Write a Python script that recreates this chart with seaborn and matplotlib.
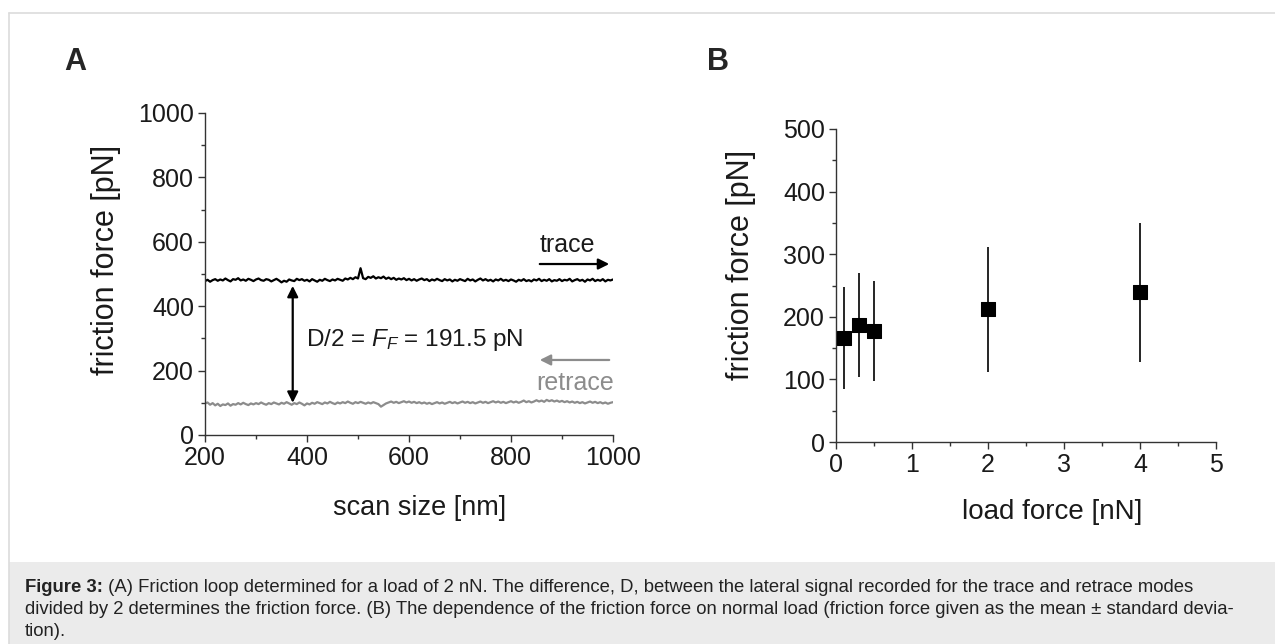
import matplotlib
matplotlib.use("Agg")
import matplotlib.pyplot as plt
import numpy as np
import seaborn as sns
from matplotlib.patches import Rectangle
from matplotlib.lines import Line2D
from matplotlib.ticker import MultipleLocator

# panel A: friction loop, lateral signal every 5 nm from 200 to 1000 nm
scan_nm = np.arange(200, 1001, 5)
trace_pN = [
    478, 482, 476, 481, 484, 479, 483, 480, 486, 481, 477, 484, 482, 487, 480, 483, 479, 485, 482, 478,
    483, 486, 481, 479, 484, 482, 477, 481, 485, 480, 474, 479, 476, 483, 480, 478, 485, 481, 484, 479,
    482, 477, 484, 480, 476, 482, 479, 485, 481, 478, 483, 480, 485, 482, 479, 486, 483, 488, 484, 490,
    486, 518, 487, 484, 491, 488, 493, 486, 490, 487, 492, 485, 489, 484, 488, 482, 486, 483, 487, 481,
    485, 480, 484, 479, 483, 486, 481, 484, 478, 483, 480, 485, 481, 478, 484, 480, 483, 477, 482, 479,
    484, 481, 478, 485, 480, 483, 477, 482, 486, 480, 484, 479, 482, 477, 483, 480, 485, 479, 482, 478,
    483, 480, 476, 482, 479, 484, 478, 481, 477, 483, 480, 485, 478, 482, 479, 484, 477, 481, 479, 484,
    478, 482, 480, 485, 477, 481, 484, 479, 482, 476, 483, 480, 485, 478, 482, 479, 484, 477, 482, 480,
    483,
]
retrace_pN = [
    98, 101, 94, 99, 92, 97, 90, 95, 93, 98, 91, 96, 94, 99, 95, 100, 96, 93, 98, 95,
    99, 96, 101, 97, 94, 99, 96, 101, 98, 95, 100, 97, 102, 98, 94, 99, 96, 101, 97, 92,
    98, 95, 100, 97, 102, 99, 96, 101, 98, 103, 99, 96, 101, 98, 102, 99, 104, 100, 97, 102,
    99, 103, 100, 97, 101, 98, 102, 99, 96, 88, 93, 98, 101, 104, 100, 103, 99, 102, 105, 101,
    104, 100, 103, 99, 102, 98, 101, 97, 100, 96, 99, 102, 98, 101, 97, 100, 103, 99, 102, 98,
    101, 104, 100, 103, 99, 102, 98, 101, 104, 100, 103, 99, 102, 105, 101, 104, 100, 103, 99, 102,
    105, 101, 104, 100, 103, 107, 102, 105, 101, 104, 108, 104, 107, 103, 109, 105, 108, 104, 107, 103,
    106, 102, 105, 101, 104, 100, 103, 99, 102, 98, 101, 104, 100, 103, 99, 102, 98, 101, 97, 100,
    102,
]

# panel B: friction force vs load (mean +- sd)
load_nN = [0.1, 0.3, 0.5, 2.0, 4.0]
friction_mean = [166, 187, 177, 212, 239]
friction_sd = [82, 83, 80, 100, 111]

sns.set_style("ticks")
plt.rcParams['font.family'] = ['Liberation Sans', 'DejaVu Sans']
plt.rcParams['mathtext.fontset'] = 'custom'
plt.rcParams['mathtext.rm'] = 'Liberation Sans'
plt.rcParams['mathtext.it'] = 'Liberation Sans:italic'

W, H = 1275, 644
fig = plt.figure(figsize=(W / 100, H / 100), dpi=100)
fig.patch.set_facecolor('white')

# frame and caption box
fig.patches.append(Rectangle((9 / W, 0), 1 - 9 / W, 82 / H, transform=fig.transFigure,
                             facecolor='#ebebeb', edgecolor='none', zorder=0))
fig.lines.append(Line2D([9 / W, 1], [1 - 12.5 / H] * 2, transform=fig.transFigure,
                        color='#dcdcdc', lw=1.2))
fig.lines.append(Line2D([9 / W] * 2, [0, 1 - 12.5 / H], transform=fig.transFigure,
                        color='#dcdcdc', lw=1.2))

axA = fig.add_axes([205 / W, (H - 435) / H, 408 / W, 322 / H])
axB = fig.add_axes([836 / W, (H - 442) / H, 380 / W, 313 / H])

ink = '#1a1a1a'
for ax in (axA, axB):
    ax.set_facecolor('none')
    sns.despine(ax=ax)
    for s in ('left', 'bottom'):
        ax.spines[s].set_linewidth(1.0)
        ax.spines[s].set_color('#333333')
    ax.tick_params(which='major', direction='out', length=5, width=1, labelsize=18,
                   color='#333333', labelcolor=ink, pad=3)
    ax.tick_params(which='minor', direction='out', length=3, width=1, color='#333333')

# ---- panel A
sns.lineplot(x=scan_nm, y=trace_pN, ax=axA, color='black', lw=1.6)
sns.lineplot(x=scan_nm, y=retrace_pN, ax=axA, color='#8c8c8c', lw=1.6)
axA.set_xlim(200, 1000)
axA.set_ylim(0, 1000)
axA.xaxis.set_major_locator(MultipleLocator(200))
axA.xaxis.set_minor_locator(MultipleLocator(100))
axA.yaxis.set_major_locator(MultipleLocator(200))
axA.yaxis.set_minor_locator(MultipleLocator(100))
axA.set_xlabel('scan size [nm]', fontsize=19.5, color=ink)
axA.set_ylabel('friction force [pN]', fontsize=22, color=ink)
axA.xaxis.set_label_coords(0.525, -0.185)
axA.yaxis.set_label_coords(-0.205, 0.545)

axA.annotate('', xy=(998, 531), xytext=(851, 531),
             arrowprops=dict(arrowstyle='-|>', color='black', lw=1.6, mutation_scale=16))
axA.text(857, 590, 'trace', fontsize=18, color=ink, va='center', ha='left')
axA.annotate('', xy=(851, 233), xytext=(998, 233),
             arrowprops=dict(arrowstyle='-|>', color='#8c8c8c', lw=1.6, mutation_scale=16))
axA.text(1002, 161, 'retrace', fontsize=18, color='#8c8c8c', va='center', ha='right')
axA.annotate('', xy=(372, 100), xytext=(372, 463),
             arrowprops=dict(arrowstyle='<|-|>', color='black', lw=1.6, mutation_scale=16,
                             shrinkA=0, shrinkB=0))
axA.text(398, 295, 'D/2 = $F_F$ = 191.5 pN', fontsize=17.5, color=ink, va='center', ha='left')

# ---- panel B
axB.errorbar(load_nN, friction_mean, yerr=friction_sd, fmt='none', ecolor='black',
             elinewidth=1.2, capsize=0, zorder=2)
sns.scatterplot(x=load_nN, y=friction_mean, ax=axB, marker='s', s=90, color='black',
                edgecolor='black', zorder=3, clip_on=False)
axB.set_xlim(0, 5)
axB.set_ylim(0, 500)
axB.xaxis.set_major_locator(MultipleLocator(1))
axB.xaxis.set_minor_locator(MultipleLocator(0.5))
axB.yaxis.set_major_locator(MultipleLocator(100))
axB.yaxis.set_minor_locator(MultipleLocator(50))
axB.set_xlabel('load force [nN]', fontsize=20, color=ink)
axB.set_ylabel('friction force [pN]', fontsize=22, color=ink)
axB.xaxis.set_label_coords(0.568, -0.183)
axB.yaxis.set_label_coords(-0.21, 0.565)

# panel letters
fig.text(64 / W, 1 - 70 / H, 'A', fontsize=22, fontweight='bold', va='baseline')
fig.text(707 / W, 1 - 70 / H, 'B', fontsize=22, fontweight='bold', va='baseline')

# caption
cap_col = '#222222'
cap_fs = 13.3
y1 = H - 592
bold = fig.text(25 / W, y1 / H, 'Figure 3:', fontsize=cap_fs, fontweight='bold',
                color=cap_col, va='baseline')
fig.add_artist(plt.Annotation(
    ' (A) Friction loop determined for a load of 2 nN. The difference, D, between the '
    'lateral signal recorded for the trace and retrace modes',
    xy=(1, y1), xycoords=(bold, 'figure pixels'), fontsize=cap_fs, color=cap_col,
    va='baseline', ha='left'))
fig.text(25 / W, (H - 614) / H,
         'divided by 2 determines the friction force. (B) The dependence of the friction force on '
         'normal load (friction force given as the mean \u00b1 standard devia-',
         fontsize=cap_fs, color=cap_col, va='baseline')
fig.text(25 / W, (H - 636) / H, 'tion).', fontsize=cap_fs, color=cap_col, va='baseline')

fig.savefig('out.png', dpi=100)
